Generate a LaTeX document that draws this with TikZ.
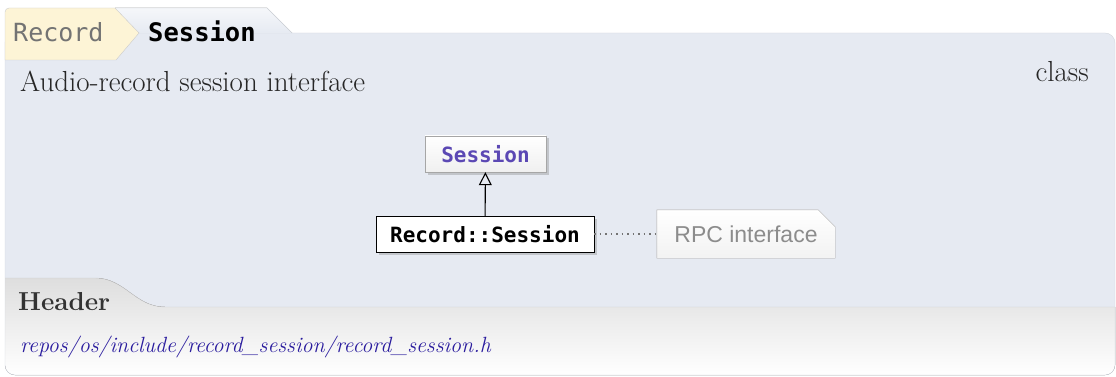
\documentclass[tikz,border=0pt]{standalone}
\usepackage{fontspec}
\usepackage{tikz}
\usetikzlibrary{arrows.meta,positioning,shadows,calc}
\newfontfamily\codefont{DejaVu Sans Mono}
\newfontfamily\notefont{Liberation Sans}
\definecolor{panelbg}{HTML}{E6EAF2}
\definecolor{panelline}{HTML}{D3D7DE}
\definecolor{crumbyellow}{HTML}{FDF4D6}
\definecolor{basepurple}{HTML}{5B48B4}
\definecolor{linkblue}{HTML}{2A1C9E}
\definecolor{notegray}{HTML}{8C8C8C}
\tikzset{
  bigfont/.style={font=\fontsize{29}{33}\selectfont},
  umlbox/.style={draw, rectangle, minimum height=36pt, inner xsep=8pt,
    font=\codefont\bfseries\fontsize{21}{24}\selectfont,
    drop shadow={shadow xshift=2.5pt, shadow yshift=-2.5pt, opacity=.35}},
}
\begin{document}
\begin{tikzpicture}[x=1pt, y=-1pt]
        \useasboundingbox (0,0) rectangle (1116,377);
        % panel
        \path[fill=panelbg, rounded corners=10pt] (5,33) rectangle (1115,375);
        \begin{scope}
            \clip[rounded corners=10pt] (5,33) rectangle (1115,375);
            \fill[top color=black!13, bottom color=white] (5,278) -- (95,278)
                .. controls (125,278) and (135,307) .. (165,307) -- (1115,307) -- (1115,375) -- (5,375) -- cycle;
        \end{scope}
        \draw[black!20] (5,278) -- (95,278) .. controls (125,278) and (135,307) .. (165,307) -- (1115,307);
        \draw[panelline, rounded corners=10pt] (5,33) rectangle (1115,375);
        % breadcrumb
        \fill[top color=panelbg!40, bottom color=panelbg] (115,8) -- (267,8) -- (292,33) -- (115,33) -- cycle;
        \draw[panelline] (115,8) -- (267,8) -- (292,33);
        \draw[black!20, fill=crumbyellow] (139,33) -- (115,8) -- (9,8) arc[start angle=90, end angle=180, radius=4pt] -- (5,60) -- (116,60) -- cycle;
        \node[anchor=base west, inner sep=0pt, text=black!55, font=\codefont\fontsize{25}{28}\selectfont] (outer) at (13,42) {Record};
        \node[anchor=base west, inner sep=0pt, font=\codefont\bfseries\fontsize{25.5}{28}\selectfont] (crumb) at (148,42) {Session};
        % description
        \node[anchor=base west, inner sep=0pt, bigfont, text=black!85] (brief) at (20,92) {Audio-record session interface};
        \node[anchor=base east, inner sep=0pt, bigfont, text=black!85] (kind) at (1089,82) {class};
        % inheritance diagram
        \node[umlbox, draw=black!35, top color=white, bottom color=black!6, text=basepurple, minimum width=121pt] (base) at (485.5,154) {Session};
        \node[umlbox, fill=white, minimum width=218pt] (sub) at (485,234) {Record::Session};
        \draw[-{Triangle[open, length=13pt, width=13pt]}, line width=1.1pt] (sub) -- (base);
        \node[inner sep=0pt, minimum width=178pt, minimum height=48pt] (note) at (746,234) {};
        \fill[black!22, xshift=2.5pt, yshift=-2.5pt] (note.south west) -- (note.south east) -- ([yshift=-17pt]note.north east) -- ([xshift=-17pt]note.north east) -- (note.north west) -- cycle;
        \draw[black!30, top color=white, bottom color=black!5] (note.south west) -- (note.south east) -- ([yshift=-17pt]note.north east) -- ([xshift=-17pt]note.north east) -- (note.north west) -- cycle;
        \node[inner sep=0pt, text=notegray, font=\notefont\fontsize{23}{26}\selectfont] (notetext) at (note) {RPC interface};
        \draw[black!55, line width=1.3pt, dash pattern=on 1.5pt off 4pt] (sub) -- (note);
        % header
        \node[anchor=base west, inner sep=0pt, text=black!80, font=\fontsize{26}{30}\selectfont\bfseries] (hdr) at (18,310) {Header};
        \node[anchor=base west, inner sep=0pt, text=linkblue, font=\fontsize{22}{26}\selectfont\itshape] (path) at (20,352) {repos/os/include/record\_session/record\_session.h};
    \end{tikzpicture}
\end{document}
